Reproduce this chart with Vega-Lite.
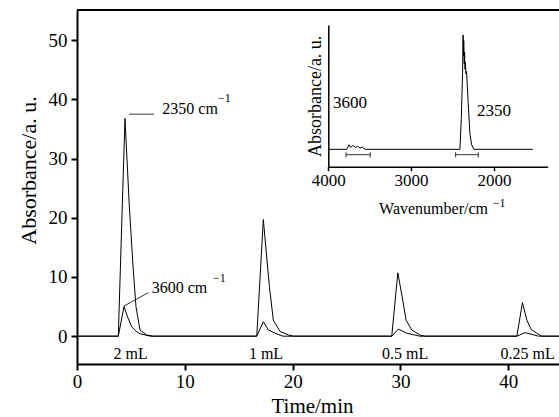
{
  "$schema": "https://vega.github.io/schema/vega-lite/v6.json",
  "width": 482,
  "height": 354,
  "autosize": "none",
  "padding": {"left": 77, "top": 10, "right": 0, "bottom": 53},
  "background": "white",
  "config": {
    "font": "Liberation Serif",
    "view": {"stroke": null},
    "axis": {"grid": false, "domainColor": "black", "tickColor": "black", "labelColor": "black", "titleColor": "black", "titleFontWeight": "normal", "labelFlush": false, "labelOverlap": false}
  },
  "datasets": {
    "chrom": [
      {"s": "2350", "t": 0, "v": 0}, {"s": "2350", "t": 3.83, "v": 0}, {"s": "2350", "t": 4.45, "v": 36.8}, {"s": "2350", "t": 4.85, "v": 22}, {"s": "2350", "t": 5.2, "v": 11.7}, {"s": "2350", "t": 5.47, "v": 5}, {"s": "2350", "t": 5.84, "v": 1.05}, {"s": "2350", "t": 6.46, "v": 0.2}, {"s": "2350", "t": 7.1, "v": 0},
      {"s": "2350", "t": 16.67, "v": 0}, {"s": "2350", "t": 17.28, "v": 19.7}, {"s": "2350", "t": 17.84, "v": 8.4}, {"s": "2350", "t": 18.21, "v": 2.7}, {"s": "2350", "t": 18.83, "v": 0.8}, {"s": "2350", "t": 19.6, "v": 0.2}, {"s": "2350", "t": 20.1, "v": 0},
      {"s": "2350", "t": 29.19, "v": 0}, {"s": "2350", "t": 29.75, "v": 10.7}, {"s": "2350", "t": 30.21, "v": 6.1}, {"s": "2350", "t": 30.52, "v": 2.7}, {"s": "2350", "t": 31.05, "v": 1.05}, {"s": "2350", "t": 31.8, "v": 0.2}, {"s": "2350", "t": 32.3, "v": 0},
      {"s": "2350", "t": 40.79, "v": 0}, {"s": "2350", "t": 41.31, "v": 5.66}, {"s": "2350", "t": 41.72, "v": 2.7}, {"s": "2350", "t": 42.12, "v": 1.15}, {"s": "2350", "t": 42.64, "v": 0.5}, {"s": "2350", "t": 43.1, "v": 0}, {"s": "2350", "t": 44.7, "v": 0},
      {"s": "3600", "t": 0, "v": 0}, {"s": "3600", "t": 3.83, "v": 0}, {"s": "3600", "t": 4.36, "v": 5.0}, {"s": "3600", "t": 4.7, "v": 3.2}, {"s": "3600", "t": 5.07, "v": 1.6}, {"s": "3600", "t": 5.5, "v": 0.8}, {"s": "3600", "t": 5.85, "v": 0.4}, {"s": "3600", "t": 6.8, "v": 0},
      {"s": "3600", "t": 16.67, "v": 0}, {"s": "3600", "t": 17.28, "v": 2.45}, {"s": "3600", "t": 17.75, "v": 1.05}, {"s": "3600", "t": 18.37, "v": 0.5}, {"s": "3600", "t": 19.1, "v": 0},
      {"s": "3600", "t": 29.19, "v": 0}, {"s": "3600", "t": 29.8, "v": 1.2}, {"s": "3600", "t": 30.58, "v": 0.5}, {"s": "3600", "t": 31.8, "v": 0},
      {"s": "3600", "t": 40.79, "v": 0}, {"s": "3600", "t": 41.56, "v": 0.6}, {"s": "3600", "t": 42.8, "v": 0}, {"s": "3600", "t": 44.7, "v": 0}
    ],
    "leaders": [
      {"t": 4.82, "v": 37.5, "t2": 7.14, "v2": 37.5},
      {"t": 4.36, "v": 5.1, "t2": 6.61, "v2": 7.35}
    ],
    "peakLabels": [
      {"t": 7.91, "v": 38.4, "label": "2350 cm"},
      {"t": 6.93, "v": 8.1, "label": "3600 cm"}
    ],
    "supers": [
      {"t": 13.08, "v": 40.2, "label": "−1"},
      {"t": 12.6, "v": 9.9, "label": "−1"}
    ],
    "volumes": [
      {"t": 4.98, "v": -3.0, "label": "2 mL"},
      {"t": 17.53, "v": -3.0, "label": "1 mL"},
      {"t": 30.43, "v": -3.0, "label": "0.5 mL"},
      {"t": 41.79, "v": -3.0, "label": "0.25 mL"}
    ],
    "spectrum": [
      {"w": 4000, "a": 0}, {"w": 3778, "a": 0}, {"w": 3750, "a": 0.04}, {"w": 3726, "a": 0.017}, {"w": 3702, "a": 0.035}, {"w": 3674, "a": 0.017}, {"w": 3645, "a": 0.026}, {"w": 3617, "a": 0.011}, {"w": 3590, "a": 0.02}, {"w": 3557, "a": 0},
      {"w": 2410, "a": 0}, {"w": 2394, "a": 0.26}, {"w": 2378, "a": 0.67}, {"w": 2372, "a": 1.0}, {"w": 2368, "a": 0.82}, {"w": 2364, "a": 0.95}, {"w": 2358, "a": 0.75}, {"w": 2354, "a": 0.85}, {"w": 2348, "a": 0.7}, {"w": 2344, "a": 0.76}, {"w": 2338, "a": 0.66}, {"w": 2330, "a": 0.68}, {"w": 2310, "a": 0.4}, {"w": 2290, "a": 0.14}, {"w": 2269, "a": 0.04}, {"w": 2241, "a": 0}, {"w": 1530, "a": 0}
    ],
    "brackets": [
      {"w": 3786, "w2": 3493, "a": -0.047},
      {"w": 2462, "w2": 2189, "a": -0.047}
    ],
    "caps": [
      {"w": 3786, "a": -0.07, "a2": -0.025},
      {"w": 3493, "a": -0.07, "a2": -0.025},
      {"w": 2462, "a": -0.07, "a2": -0.025},
      {"w": 2189, "a": -0.07, "a2": -0.025}
    ],
    "insetLabels": [
      {"w": 3943, "a": 0.405, "label": "3600"},
      {"w": 2205, "a": 0.335, "label": "2350"}
    ],
    "insetSuper": [
      {"w": 2015, "a": -0.47, "label": "−1"}
    ]
  },
  "layer": [
    {
      "data": {"name": "chrom"},
      "mark": {"type": "line", "color": "black", "strokeWidth": 1},
      "encoding": {
        "x": {"field": "t", "type": "quantitative", "scale": {"domain": [0, 44.7], "nice": false, "zero": false},
          "axis": {"orient": "bottom", "title": "Time/min", "values": [0, 10, 20, 30, 40], "domainWidth": 2, "tickWidth": 2, "tickSize": 6, "labelFontSize": 19, "titleFontSize": 21, "labelPadding": 2, "titlePadding": 4, "titleX": 235}},
        "y": {"field": "v", "type": "quantitative", "scale": {"domain": [-4.7, 55.1], "nice": false, "zero": false},
          "axis": {"orient": "left", "title": "Absorbance/a. u.", "values": [0, 10, 20, 30, 40, 50], "domainWidth": 2, "tickWidth": 2, "tickSize": 6, "labelFontSize": 19, "titleFontSize": 22, "labelPadding": 4, "titlePadding": 8, "titleY": 160}},
        "detail": {"field": "s"}
      }
    },
    {
      "data": {"values": [{}]},
      "mark": {"type": "rule", "color": "black", "strokeWidth": 2},
      "encoding": {
        "y": {"datum": 55.1, "type": "quantitative", "scale": {"domain": [-4.7, 55.1], "nice": false, "zero": false}, "axis": null}
      }
    },
    {
      "data": {"name": "leaders"},
      "mark": {"type": "rule", "color": "black", "strokeWidth": 0.8},
      "encoding": {
        "x": {"field": "t", "type": "quantitative", "scale": {"domain": [0, 44.7], "nice": false, "zero": false}, "axis": null},
        "y": {"field": "v", "type": "quantitative", "scale": {"domain": [-4.7, 55.1], "nice": false, "zero": false}, "axis": null},
        "x2": {"field": "t2"},
        "y2": {"field": "v2"}
      }
    },
    {
      "data": {"name": "peakLabels"},
      "mark": {"type": "text", "align": "left", "baseline": "middle", "fontSize": 16, "color": "black"},
      "encoding": {
        "x": {"field": "t", "type": "quantitative", "scale": {"domain": [0, 44.7], "nice": false, "zero": false}, "axis": null},
        "y": {"field": "v", "type": "quantitative", "scale": {"domain": [-4.7, 55.1], "nice": false, "zero": false}, "axis": null},
        "text": {"field": "label"}
      }
    },
    {
      "data": {"name": "supers"},
      "mark": {"type": "text", "align": "left", "baseline": "middle", "fontSize": 12, "color": "black"},
      "encoding": {
        "x": {"field": "t", "type": "quantitative", "scale": {"domain": [0, 44.7], "nice": false, "zero": false}, "axis": null},
        "y": {"field": "v", "type": "quantitative", "scale": {"domain": [-4.7, 55.1], "nice": false, "zero": false}, "axis": null},
        "text": {"field": "label"}
      }
    },
    {
      "data": {"name": "volumes"},
      "mark": {"type": "text", "align": "center", "baseline": "middle", "fontSize": 16, "color": "black"},
      "encoding": {
        "x": {"field": "t", "type": "quantitative", "scale": {"domain": [0, 44.7], "nice": false, "zero": false}, "axis": null},
        "y": {"field": "v", "type": "quantitative", "scale": {"domain": [-4.7, 55.1], "nice": false, "zero": false}, "axis": null},
        "text": {"field": "label"}
      }
    },
    {
      "data": {"name": "spectrum"},
      "mark": {"type": "line", "color": "black", "strokeWidth": 1},
      "encoding": {
        "x": {"field": "w", "type": "quantitative", "scale": {"domain": [4000, 1350], "range": [251.3, 470.7], "nice": false, "zero": false},
          "axis": {"orient": "bottom", "offset": -197.3, "title": "Wavenumber/cm", "format": "d", "values": [4000, 3000, 2000], "domainWidth": 1.5, "tickWidth": 1.5, "tickSize": 4, "labelFontSize": 17, "titleFontSize": 16, "labelPadding": 2, "titlePadding": 12, "titleX": 356}},
        "y": {"field": "a", "type": "quantitative", "scale": {"domain": [-0.152, 1.0875], "range": [156.7, 15], "nice": false, "zero": false},
          "axis": {"orient": "left", "offset": -251.3, "title": "Absorbance/a. u.", "labels": false, "ticks": false, "domainWidth": 1.5, "titleFontSize": 18, "titlePadding": 4}}
      }
    },
    {
      "data": {"name": "brackets"},
      "mark": {"type": "rule", "color": "black", "strokeWidth": 0.8},
      "encoding": {
        "x": {"field": "w", "type": "quantitative", "scale": {"domain": [4000, 1350], "range": [251.3, 470.7], "nice": false, "zero": false}, "axis": null},
        "x2": {"field": "w2"},
        "y": {"field": "a", "type": "quantitative", "scale": {"domain": [-0.152, 1.0875], "range": [156.7, 15], "nice": false, "zero": false}, "axis": null}
      }
    },
    {
      "data": {"name": "caps"},
      "mark": {"type": "rule", "color": "black", "strokeWidth": 0.8},
      "encoding": {
        "x": {"field": "w", "type": "quantitative", "scale": {"domain": [4000, 1350], "range": [251.3, 470.7], "nice": false, "zero": false}, "axis": null},
        "y": {"field": "a", "type": "quantitative", "scale": {"domain": [-0.152, 1.0875], "range": [156.7, 15], "nice": false, "zero": false}, "axis": null},
        "y2": {"field": "a2"}
      }
    },
    {
      "data": {"name": "insetLabels"},
      "mark": {"type": "text", "align": "left", "baseline": "middle", "fontSize": 17, "color": "black"},
      "encoding": {
        "x": {"field": "w", "type": "quantitative", "scale": {"domain": [4000, 1350], "range": [251.3, 470.7], "nice": false, "zero": false}, "axis": null},
        "y": {"field": "a", "type": "quantitative", "scale": {"domain": [-0.152, 1.0875], "range": [156.7, 15], "nice": false, "zero": false}, "axis": null},
        "text": {"field": "label"}
      }
    },
    {
      "data": {"name": "insetSuper"},
      "mark": {"type": "text", "align": "left", "baseline": "middle", "fontSize": 12, "color": "black"},
      "encoding": {
        "x": {"field": "w", "type": "quantitative", "scale": {"domain": [4000, 1350], "range": [251.3, 470.7], "nice": false, "zero": false}, "axis": null},
        "y": {"field": "a", "type": "quantitative", "scale": {"domain": [-0.152, 1.0875], "range": [156.7, 15], "nice": false, "zero": false}, "axis": null},
        "text": {"field": "label"}
      }
    }
  ],
  "resolve": {
    "scale": {"x": "independent", "y": "independent"},
    "axis": {"x": "independent", "y": "independent"}
  }
}
